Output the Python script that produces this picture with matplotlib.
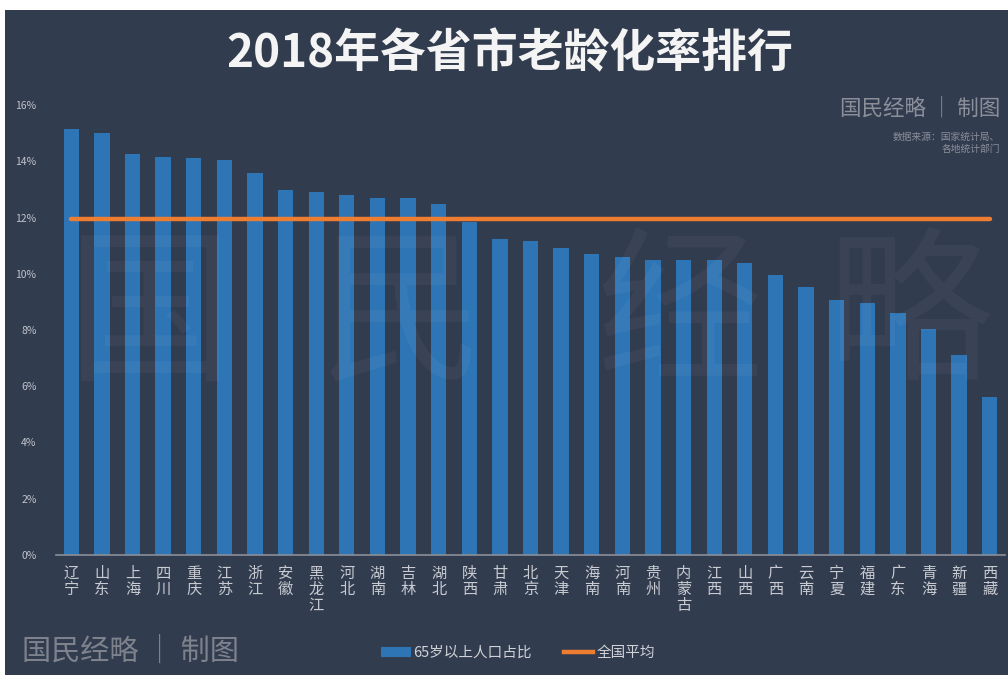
import matplotlib
matplotlib.use("Agg")
import matplotlib.pyplot as plt
from matplotlib.patches import Rectangle
from matplotlib.lines import Line2D
from matplotlib.ticker import FuncFormatter

plt.rcParams['font.family'] = ['Noto Sans CJK SC', 'DejaVu Sans']

# data
provinces = ["辽宁", "山东", "上海", "四川", "重庆", "江苏", "浙江", "安徽", "黑龙江", "河北",
             "湖南", "吉林", "湖北", "陕西", "甘肃", "北京", "天津", "海南", "河南", "贵州",
             "内蒙古", "江西", "山西", "广西", "云南", "宁夏", "福建", "广东", "青海", "新疆", "西藏"]
ratio = [15.16, 15.00, 14.27, 14.16, 14.10, 14.03, 13.60, 12.97, 12.90, 12.79,
         12.71, 12.71, 12.47, 11.85, 11.23, 11.18, 10.90, 10.70, 10.59, 10.50,
         10.48, 10.48, 10.38, 9.95, 9.52, 9.07, 8.96, 8.59, 8.02, 7.12, 5.62]
national_avg = 11.93
yticks = [0, 2, 4, 6, 8, 10, 12, 14, 16]

bg = "#323c4f"
bar_color = "#2e75b6"
line_color = "#ed7d31"

fig = plt.figure(figsize=(10.08, 6.75), dpi=100)
fig.patch.set_facecolor("white")
fig.patches.append(Rectangle((5 / 1008, 0), 1, 665 / 675, transform=fig.transFigure,
                             facecolor=bg, edgecolor="none", zorder=-10))

ax = fig.add_axes([56 / 1008, 120 / 675, 949 / 1008, 450 / 675])
ax.set_facecolor("none")

x = list(range(len(provinces)))
ax.bar(x, ratio, width=0.5, color=bar_color, zorder=2)
ax.plot([x[0], x[-1]], [national_avg, national_avg], color=line_color, lw=3.2,
        solid_capstyle="round", zorder=3)

ax.set_xlim(-0.5, len(provinces) - 0.5)
ax.set_ylim(0, 16)
ax.set_yticks(yticks)
ax.yaxis.set_major_formatter(FuncFormatter(lambda v, p: "%d%%" % v))
ax.tick_params(axis="y", length=0, pad=14, labelsize=7.5, labelcolor="#c0c4cc")
ax.set_xticks(x)
ax.set_xticklabels(["\n".join(p) for p in provinces], va="top", linespacing=0.95)
ax.tick_params(axis="x", length=0, pad=7, labelsize=11, labelcolor="#c8cbd1")
for s in ["top", "right", "left"]:
    ax.spines[s].set_visible(False)
ax.spines["bottom"].set_color("#8a8f99")
ax.spines["bottom"].set_linewidth(1.2)

# faint background watermark
for cx, ch in zip([150, 400, 680, 910], "国民经略"):
    fig.text(cx / 1008, 1 - 320 / 675, ch, fontsize=120, color="white", alpha=0.04,
             ha="center", va="center", zorder=5)

fig.text(510 / 1008, 1 - 54 / 675, "2018年各省市老龄化率排行", fontsize=33, fontweight="bold",
         color="#f4f4f4", ha="center", va="center")
fig.text(1000 / 1008, 1 - 108 / 675, "国民经略 │ 制图", fontsize=15.5, color="#8a8f99",
         ha="right", va="center")
fig.text(1000 / 1008, 1 - 143 / 675, "数据来源：国家统计局、\n各地统计部门", fontsize=7,
         color="#8a8f99", ha="right", va="center", multialignment="right", linespacing=1.3)
fig.text(22 / 1008, 1 - 652 / 675, "国民经略 │ 制图", fontsize=21, color="#7d828c",
         ha="left", va="center")

handles = [Rectangle((0, 0), 1, 1, facecolor=bar_color),
           Line2D([0], [0], color=line_color, lw=3.2)]
fig.legend(handles, ["65岁以上人口占比", "全国平均"], loc="center", ncol=2,
           bbox_to_anchor=(518 / 1008, 1 - 653 / 675), frameon=False, fontsize=10.5,
           labelcolor="#d0d3d8", handlelength=2.0, handletextpad=0.2, columnspacing=2.2)

fig.savefig("out.png", dpi=100, facecolor=fig.get_facecolor())
